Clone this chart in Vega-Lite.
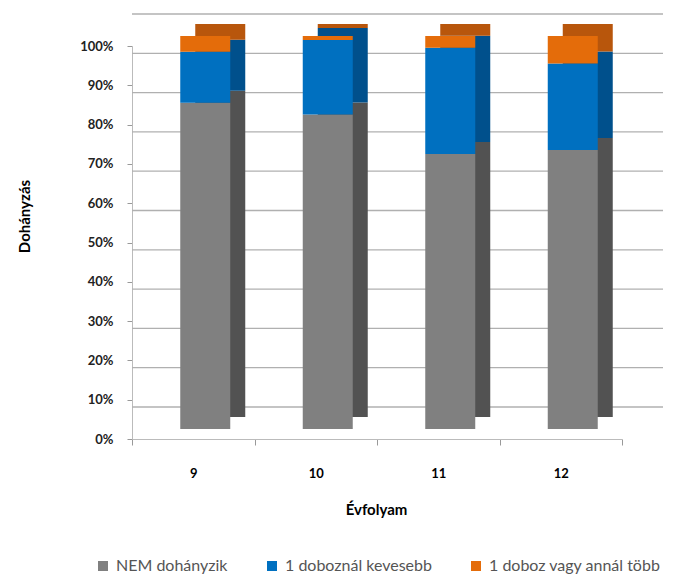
{
  "$schema": "https://vega.github.io/schema/vega-lite/v6.json",
  "width": 490,
  "height": 393,
  "autosize": {"type": "none"},
  "padding": {"left": 132, "top": 46, "right": 73, "bottom": 139},
  "background": "white",
  "config": {
    "font": "Lato",
    "view": {"stroke": null},
    "axisY": {
      "titleFont": "Lato",
      "titleFontSize": 15,
      "titleFontWeight": "bold",
      "titleColor": "#000000",
      "titlePadding": 47,
      "titleY": 170,
      "labelOverlap": false,
      "labelFontSize": 13,
      "labelFontWeight": "bold",
      "labelColor": "#222222",
      "labelPadding": 14,
      "tickColor": "#999999",
      "tickSize": 5,
      "domain": true,
      "domainColor": "#bbbbbb",
      "grid": false
    }
  },
  "datasets": {
    "main": [
      {"evf": "9", "kat": "NEM dohányzik", "ord": 1, "v": 83},
      {"evf": "9", "kat": "1 doboznál kevesebb", "ord": 2, "v": 13},
      {"evf": "9", "kat": "1 doboz vagy annál több", "ord": 3, "v": 4},
      {"evf": "10", "kat": "NEM dohányzik", "ord": 1, "v": 80},
      {"evf": "10", "kat": "1 doboznál kevesebb", "ord": 2, "v": 19},
      {"evf": "10", "kat": "1 doboz vagy annál több", "ord": 3, "v": 1},
      {"evf": "11", "kat": "NEM dohányzik", "ord": 1, "v": 70},
      {"evf": "11", "kat": "1 doboznál kevesebb", "ord": 2, "v": 27},
      {"evf": "11", "kat": "1 doboz vagy annál több", "ord": 3, "v": 3},
      {"evf": "12", "kat": "NEM dohányzik", "ord": 1, "v": 71},
      {"evf": "12", "kat": "1 doboznál kevesebb", "ord": 2, "v": 22},
      {"evf": "12", "kat": "1 doboz vagy annál több", "ord": 3, "v": 7}
    ],
    "grid": [
      {"g": 0}, {"g": 10}, {"g": 20}, {"g": 30}, {"g": 40}, {"g": 50},
      {"g": 60}, {"g": 70}, {"g": 80}, {"g": 90}, {"g": 100}
    ]
  },
  "layer": [
    {
      "data": {"name": "grid"},
      "mark": {"type": "rule", "color": "#b0b0b0", "strokeWidth": 1.3, "xOffset": 41, "yOffset": -32},
      "encoding": {
        "y": {
          "field": "g",
          "type": "quantitative",
          "scale": {"domain": [0, 100]},
          "axis": {
            "title": "Dohányzás",
            "values": [0, 10, 20, 30, 40, 50, 60, 70, 80, 90, 100],
            "labelExpr": "datum.value + '%'"
          }
        }
      }
    },
    {
      "data": {"name": "main"},
      "encoding": {
        "x": {
          "field": "evf",
          "type": "ordinal",
          "sort": ["9", "10", "11", "12"],
          "scale": {"paddingInner": 0, "paddingOuter": 0},
          "axis": {
            "title": "Évfolyam",
            "titleFont": "Lato",
            "titleFontSize": 15,
            "titleFontWeight": "bold",
            "titleColor": "#000000",
            "titlePadding": 22,
            "titleX": 244,
            "labelAngle": 0,
            "labelFontSize": 13,
            "labelFontWeight": "bold",
            "labelColor": "#000000",
            "labelPadding": 22,
            "tickBand": "extent",
            "tickColor": "#999999",
            "tickSize": 6,
            "domainColor": "#bbbbbb",
            "grid": false
          }
        },
        "y": {
          "field": "v",
          "type": "quantitative",
          "stack": "zero",
          "scale": {"domain": [0, 100]},
          "axis": {
            "title": "Dohányzás",
            "values": [0, 10, 20, 30, 40, 50, 60, 70, 80, 90, 100],
            "labelExpr": "datum.value + '%'"
          }
        },
        "order": {"field": "ord", "type": "quantitative"}
      },
      "layer": [
        {
          "mark": {"type": "bar", "width": 50, "xOffset": 27, "yOffset": -22},
          "encoding": {
            "color": {
              "field": "kat",
              "type": "nominal",
              "scale": {
                "domain": ["NEM dohányzik", "1 doboznál kevesebb", "1 doboz vagy annál több"],
                "range": ["#525252", "#00508c", "#b8560c"]
              },
              "legend": null
            }
          }
        },
        {
          "mark": {"type": "bar", "width": 50, "xOffset": 12, "yOffset": -10},
          "encoding": {
            "color": {
              "field": "kat",
              "type": "nominal",
              "scale": {
                "domain": ["NEM dohányzik", "1 doboznál kevesebb", "1 doboz vagy annál több"],
                "range": ["#808080", "#0070c0", "#e46c0a"]
              },
              "legend": {
                "title": null,
                "orient": "none",
                "direction": "horizontal",
                "legendX": -37,
                "legendY": 512,
                "symbolType": "square",
                "symbolSize": 100,
                "symbolStrokeWidth": 0,
                "labelFontSize": 16,
                "labelLimit": 400,
                "labelColor": "#555555",
                "columnPadding": 36,
                "labelOffset": 5
              }
            }
          }
        }
      ],
      "resolve": {"scale": {"color": "independent"}}
    }
  ]
}
